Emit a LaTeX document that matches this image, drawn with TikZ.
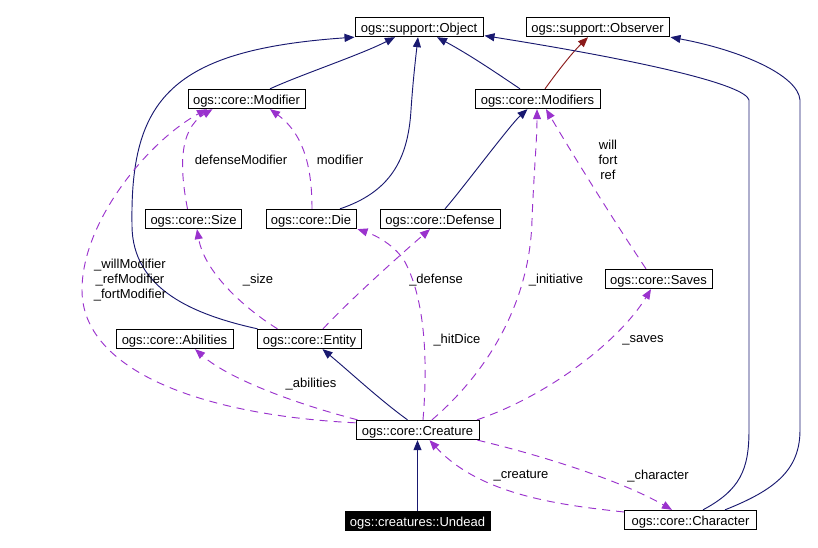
\documentclass[tikz,border=0pt]{standalone}
\usepackage{fontspec}
\setmainfont{Liberation Sans}
\usetikzlibrary{arrows.meta,calc}
\definecolor{navy}{HTML}{191970}
\definecolor{orchid}{HTML}{9A32CD}
\definecolor{brick}{HTML}{8B1A1A}
\begin{document}
\begin{tikzpicture}[x=0.75pt,y=-0.75pt,
  font=\fontsize{9.75}{11.25}\selectfont,
  cls/.style={draw=black,line width=0.75pt,minimum width=#1*0.75pt,minimum height=14.5pt,inner sep=0pt,text height=9pt,text depth=0.5pt},
  inh/.style={draw=navy,line width=0.7pt,-{Triangle[length=7.5pt,width=6pt]}},
  prot/.style={draw=brick,line width=0.7pt,-{Triangle[length=7.5pt,width=6pt]}},
  use/.style={draw=orchid,line width=0.7pt,dash pattern=on 6pt off 4.5pt,-{Triangle[length=7.5pt,width=6pt]}},
  lbl/.style={inner sep=0pt,align=center}]
\useasboundingbox (0,0) rectangle (818,548);
% classes
\node[cls=128] (obj) at (419,27) {ogs::support::Object};
\node[cls=143] (obs) at (597.5,27) {ogs::support::Observer};
\node[cls=117] (mod) at (246.5,99) {ogs::core::Modifier};
\node[cls=125] (mods) at (537.5,99) {ogs::core::Modifiers};
\node[cls=96] (size) at (193.5,219) {ogs::core::Size};
\node[cls=90] (die) at (311,219) {ogs::core::Die};
\node[cls=120] (def) at (440,219) {ogs::core::Defense};
\node[cls=107] (saves) at (658.5,279) {ogs::core::Saves};
\node[cls=117] (abil) at (174.5,339) {ogs::core::Abilities};
\node[cls=104] (ent) at (309.5,339) {ogs::core::Entity};
\node[cls=123] (cre) at (417.5,430) {ogs::core::Creature};
\node[cls=145,fill=black,text=white] (und) at (417.5,521) {ogs::creatures::Undead};
\node[cls=132] (chr) at (690.5,520) {ogs::core::Character};
% inheritance
\draw[inh] ($(mod.north)+(23.5,0)$) .. controls (300,75) and (360,55) .. ($(obj.south)+(-24,0)$);
\draw[inh] ($(mods.north)+(-17.5,0)$) .. controls (495,72) and (470,55) .. ($(obj.south)+(18,0)$);
\draw[prot] ($(mods.north)+(7.5,0)$) .. controls (555,75) and (570,55) .. ($(obs.south)+(-9.5,0)$);
\draw[inh] ($(die.north)+(29,0)$) .. controls (390,192) and (408,160) .. (411,110) .. controls (413,80) and (416,55) .. ($(obj.south)+(-1,0)$);
\draw[inh] ($(ent.north)+(-52,0)$) .. controls (195,315) and (132,290) .. (132,225) .. controls (130,100) and (170,50) .. (obj.south west);
\draw[inh] ($(chr.north)+(12.5,0)$) .. controls (740,490) and (749,470) .. (749,430) -- (749,100) .. controls (745,85) and (650,62) .. ($(obj.south east)+(1,-1.5)$);
\draw[inh] ($(chr.north)+(34.5,0)$) .. controls (775,490) and (800,470) .. (800,430) -- (800,100) .. controls (798,75) and (740,50) .. ($(obs.south east)+(1,0)$);
\draw[inh] ($(def.north)+(5,0)$) .. controls (460,192) and (510,125) .. ($(mods.south)+(-10,0)$);
\draw[inh] ($(cre.north)+(-10,0)$) .. controls (380,400) and (350,372) .. ($(ent.south)+(13,0)$);
\draw[inh] (und.north) -- (cre.south);
% usage
\draw[use] ($(size.north)+(-6,0)$) .. controls (180,170) and (178,130) .. ($(mod.south)+(-34,0)$);
\draw[use] ($(die.north)+(1,0)$) .. controls (312,170) and (305,135) .. ($(mod.south)+(23.5,0)$);
\draw[use] ($(cre.north west)+(0,3)$) .. controls (200,415) and (82,370) .. (82,290) .. controls (82,220) and (150,140) .. ($(mod.south)+(-39.5,0)$);
\draw[use] ($(ent.north)+(-32,0)$) .. controls (250,312) and (205,275) .. ($(size.south)+(3.5,0)$);
\draw[use] ($(ent.north)+(13.5,0)$) .. controls (350,300) and (400,255) .. ($(def.south)+(-10,0)$);
\draw[use] ($(cre.north)+(5.5,0)$) .. controls (428,360) and (425,300) .. (405,262) .. controls (395,245) and (375,235) .. ($(die.south east)+(1,0)$);
\draw[use] ($(cre.north)+(14.5,0)$) .. controls (490,370) and (530,300) .. (532,220) .. controls (534,170) and (537,140) .. ($(mods.south)+(-0.5,0)$);
\draw[use] ($(saves.north)+(-12.5,0)$) .. controls (610,215) and (570,150) .. ($(mods.south)+(8.5,0)$);
\draw[use] ($(cre.north)+(59.5,0)$) .. controls (550,395) and (620,340) .. ($(saves.south)+(-7.5,0)$);
\draw[use] ($(cre.north west)+(2,0)$) .. controls (300,405) and (230,380) .. ($(abil.south)+(20.5,0)$);
\draw[use] ($(cre.south east)+(-2,0)$) .. controls (540,455) and (620,480) .. ($(chr.north)+(-18.5,0)$);
\draw[use] ($(chr.west)+(0,-8)$) .. controls (560,505) and (480,495) .. ($(cre.south)+(12,0)$);
% labels
\node[lbl] (l1) at (241,160) {defenseModifier};
\node[lbl] (l2) at (340,160) {modifier};
\node[lbl] (l3) at (608,160) {will\\fort\\ref};
\node[lbl] (l4) at (130,280) {\_willModifier\\\_refModifier\\\_fortModifier};
\node[lbl] (l5) at (258,280) {\_size};
\node[lbl] (l6) at (436,280) {\_defense};
\node[lbl] (l7) at (556,280) {\_initiative};
\node[lbl] (l8) at (457,340) {\_hitDice};
\node[lbl] (l9) at (643,340) {\_saves};
\node[lbl] (l10) at (311,384) {\_abilities};
\node[lbl] (l11) at (521,476) {\_creature};
\node[lbl] (l12) at (658,476) {\_character};
\end{tikzpicture}
\end{document}
